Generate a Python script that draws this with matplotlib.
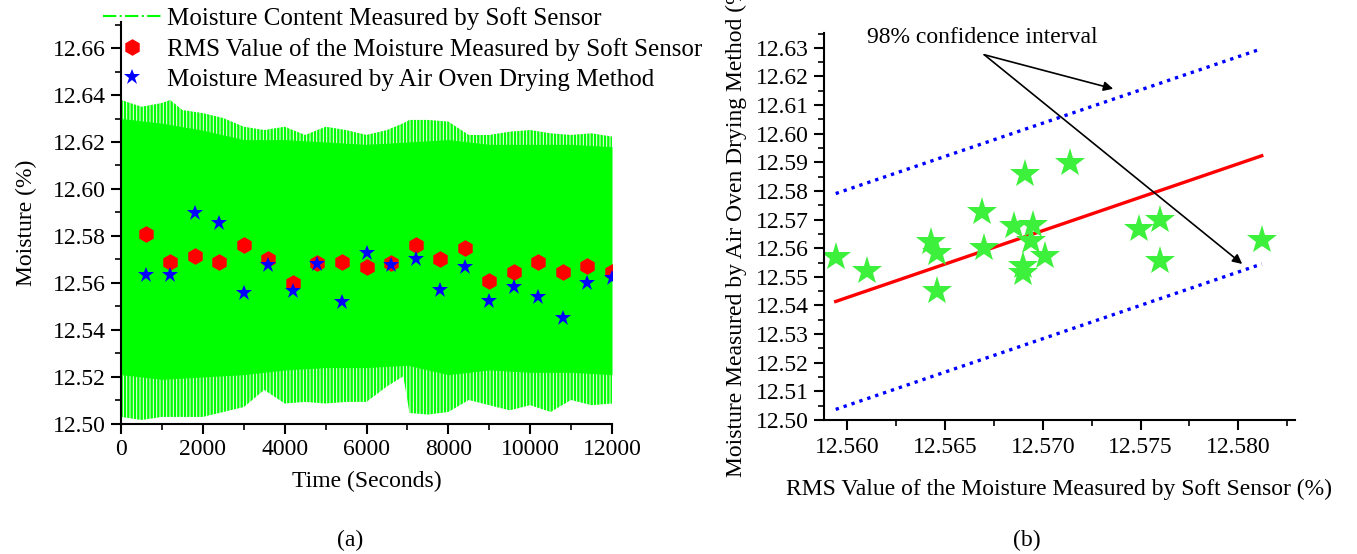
import matplotlib
matplotlib.use("Agg")
import matplotlib.pyplot as plt
from matplotlib.lines import Line2D
from matplotlib.ticker import MultipleLocator, FormatStrFormatter

plt.rcParams['font.family'] = ['Liberation Serif', 'DejaVu Serif']
plt.rcParams['hatch.linewidth'] = 1.7

# ---------------- panel (a) data ----------------
# outer envelope of the soft sensor trace (tips of the spikes)
t_env = [0, 500, 1000, 1200, 1500, 2000, 2500, 3000, 3500, 4000, 4500, 5000,
         5500, 6000, 6500, 6900, 7050, 7500, 8000, 8500, 9000, 9500, 10000,
         10500, 11000, 11500, 12000]
env_top = [12.6379, 12.635, 12.6366, 12.6379, 12.6336, 12.6323, 12.6302, 12.6265,
           12.6251, 12.6265, 12.623, 12.6265, 12.6251, 12.623, 12.6251, 12.628,
           12.6294, 12.6294, 12.6287, 12.623, 12.623, 12.6244, 12.6251, 12.6237,
           12.623, 12.6237, 12.6223]
env_bot = [12.503, 12.5017, 12.503, 12.503, 12.503, 12.503, 12.5051, 12.5072,
           12.5145, 12.5087, 12.5094, 12.5087, 12.5094, 12.5094, 12.516, 12.5203,
           12.5047, 12.504, 12.5051, 12.5102, 12.508, 12.5058, 12.508, 12.5051,
           12.5102, 12.508, 12.5087]
# dense core of the trace
t_core = [0, 1000, 2000, 3000, 4000, 5000, 6000, 7000, 8000, 9000, 10000, 11000, 12000]
core_top = [12.630, 12.628, 12.625, 12.621, 12.621, 12.620, 12.619, 12.620, 12.621,
            12.619, 12.619, 12.619, 12.618]
core_bot = [12.521, 12.519, 12.520, 12.521, 12.523, 12.524, 12.524, 12.525, 12.521,
            12.523, 12.522, 12.522, 12.521]

t_samples = [600, 1200, 1800, 2400, 3000, 3600, 4200, 4800, 5400, 6000,
             6600, 7200, 7800, 8400, 9000, 9600, 10200, 10800, 11400, 12000]
rms_vals = [12.581, 12.569, 12.5715, 12.569, 12.576, 12.570, 12.560, 12.5687,
            12.569, 12.5667, 12.5687, 12.576, 12.570, 12.575, 12.561, 12.5646,
            12.569, 12.5647, 12.5671, 12.5646]
oven_vals = [12.5632, 12.5632, 12.5897, 12.5856, 12.5558, 12.5678, 12.5565,
             12.568, 12.5519, 12.5729, 12.5678, 12.570, 12.5572, 12.567,
             12.5523, 12.5581, 12.5541, 12.5449, 12.5598, 12.5623]

# ---------------- panel (b) data ----------------
scatter_x = [12.5594, 12.5610, 12.5643, 12.5646, 12.5646, 12.5669, 12.5670,
             12.5685, 12.5691, 12.5690, 12.5690, 12.5695, 12.5694, 12.5701,
             12.5714, 12.5749, 12.5760, 12.5760, 12.5812]
scatter_y = [12.5568, 12.5519, 12.5623, 12.5583, 12.5451, 12.5728, 12.5602,
             12.5678, 12.5858, 12.5537, 12.5513, 12.5682, 12.5626, 12.5574,
             12.5898, 12.5666, 12.5700, 12.5556, 12.5629]

fit_x = [12.5594, 12.5812]
fit_y = [12.5414, 12.5923]
upper_y = [12.5791, 12.6297]
lower_y = [12.5037, 12.5545]

fig = plt.figure(figsize=(13.57, 5.54), dpi=100)

FS = 17
GREEN = '#00ff00'


def style_axes(ax):
    for s in ('top', 'right'):
        ax.spines[s].set_visible(False)
    for s in ('left', 'bottom'):
        ax.spines[s].set_linewidth(1.5)
    ax.tick_params(which='major', direction='out', length=7, width=1.5,
                   labelsize=FS, pad=4)
    ax.tick_params(which='minor', direction='out', length=4, width=1.2)


# ================================ (a) =================================
ax1 = fig.add_axes([0.0892, 0.2347, 0.3618, 0.7253])
# spiky fringe: vertical green strokes, then the solid core on top
ax1.fill_between(t_env, env_bot, env_top, facecolor='white', edgecolor=GREEN,
                 hatch='|||||', lw=0)
ax1.fill_between(t_core, core_bot, core_top, color=GREEN, lw=0)
ax1.plot(t_samples, rms_vals, ls='none', marker='h', ms=12, color='red',
         markeredgewidth=0)
ax1.plot(t_samples, oven_vals, ls='none', marker='*', ms=12, color='blue',
         markeredgewidth=0)
ax1.set_xlim(0, 12000)
ax1.set_ylim(12.50, 12.671)
ax1.xaxis.set_major_locator(MultipleLocator(2000))
ax1.xaxis.set_minor_locator(MultipleLocator(1000))
ax1.yaxis.set_major_locator(MultipleLocator(0.02))
ax1.yaxis.set_minor_locator(MultipleLocator(0.01))
ax1.yaxis.set_major_formatter(FormatStrFormatter('%.2f'))
style_axes(ax1)
ax1.set_xlabel('Time (Seconds)', fontsize=FS, labelpad=8)
ax1.set_ylabel('Moisture (%)', fontsize=FS, labelpad=11)

handles = [
    Line2D([], [], color=GREEN, ls='-.', lw=1.5),
    Line2D([], [], color='red', ls='none', marker='h', ms=12, markeredgewidth=0),
    Line2D([], [], color='blue', ls='none', marker='*', ms=12, markeredgewidth=0),
]
labels = ['Moisture Content Measured by Soft Sensor',
          'RMS Value of the Moisture Measured by Soft Sensor',
          'Moisture Measured by Air Oven Drying Method']
fig.legend(handles, labels, loc='upper left', bbox_to_anchor=(0.0759, 0.988),
           frameon=False, fontsize=18, handlelength=2.36, handletextpad=0.2,
           labelspacing=0.32, borderaxespad=0, borderpad=0)

fig.text(0.258, 0.025, '(a)', fontsize=FS, ha='center', va='center')

# ================================ (b) =================================
ax2 = fig.add_axes([0.6072, 0.2419, 0.3471, 0.6986])
dot_kw = dict(color='blue', lw=2.4, ls=(0, (1, 1.5)))
ax2.plot(fit_x, upper_y, **dot_kw)
ax2.plot(fit_x, lower_y, **dot_kw)
ax2.plot(fit_x, fit_y, color='red', lw=2.4)
ax2.plot(scatter_x, scatter_y, ls='none', marker='*', ms=22, color='#3cf03c',
         markeredgewidth=0)
ax2.set_xlim(12.5588, 12.5829)
ax2.set_ylim(12.50, 12.6352)
ax2.xaxis.set_major_locator(MultipleLocator(0.005))
ax2.xaxis.set_minor_locator(MultipleLocator(0.0025))
ax2.yaxis.set_major_locator(MultipleLocator(0.01))
ax2.yaxis.set_minor_locator(MultipleLocator(0.005))
ax2.xaxis.set_major_formatter(FormatStrFormatter('%.3f'))
ax2.yaxis.set_major_formatter(FormatStrFormatter('%.2f'))
style_axes(ax2)
ax2.tick_params(axis='x', pad=5)
ax2.set_xlabel('RMS Value of the Moisture Measured by Soft Sensor (%)',
               fontsize=FS, labelpad=15)
ax2.set_ylabel('Moisture Measured by Air Oven Drying Method (%)',
               fontsize=FS, labelpad=6)

ax2.text(12.5610, 12.6335, '98% confidence interval', fontsize=17,
         va='center', ha='left', clip_on=False)
arrow_kw = dict(arrowstyle='-|>', color='black', lw=1.2, mutation_scale=14,
                shrinkA=0, shrinkB=0)
ax2.annotate('', xy=(12.5736, 12.6157), xytext=(12.5670, 12.6276),
             arrowprops=arrow_kw, annotation_clip=False)
ax2.annotate('', xy=(12.5802, 12.5545), xytext=(12.5670, 12.6276),
             arrowprops=arrow_kw, annotation_clip=False)

fig.text(0.757, 0.025, '(b)', fontsize=FS, ha='center', va='center')

fig.savefig('out.png', dpi=100, facecolor='white')
